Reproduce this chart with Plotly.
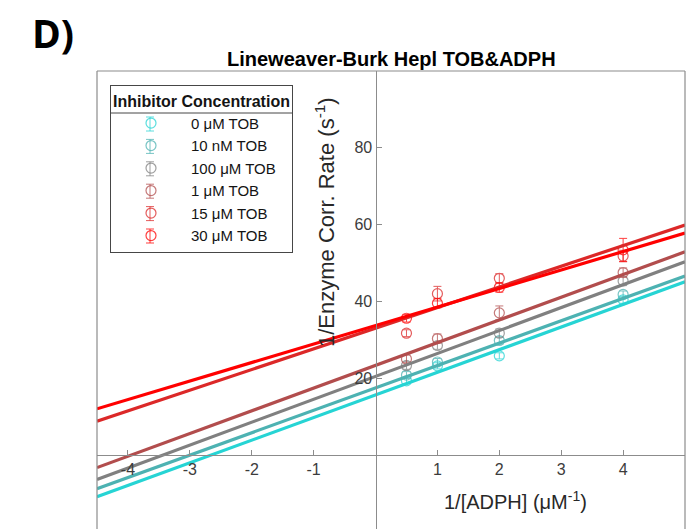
import plotly.graph_objects as go

# ---- data ----
series_names = ["0 μM TOB", "10 nM TOB", "100 μM TOB", "1 μM TOB", "15 μM TOB", "30 μM TOB"]
colors = ["rgb(38,212,212)", "rgb(77,178,178)", "rgb(128,128,128)",
          "rgb(178,77,77)", "rgb(220,40,40)", "rgb(255,0,0)"]

inv_adph = [0.5, 1, 2, 4]  # 1/[ADPH] (μM^-1)

rate_0uM = [19.3, 23.2, 25.8, 40.4]
rate_10nM = [20.8, 24.2, 29.8, 41.8]
rate_100uM = [23.3, 28.5, 31.7, 45.3]
rate_1uM = [25.0, 30.3, 37.0, 47.5]
rate_15uM = [31.7, 42.0, 46.0, 51.8]
rate_30uM = [35.6, 39.5, 43.6, 53.4]

err_0uM = [0.8, 0.8, 0.8, 0.9]
err_10nM = [0.9, 0.9, 1.0, 0.9]
err_100uM = [1.0, 1.0, 1.1, 1.2]
err_1uM = [1.0, 1.2, 1.8, 1.2]
err_15uM = [0.9, 1.9, 1.2, 1.5]
err_30uM = [1.0, 1.2, 1.2, 3.0]

# fitted lines read at the edges of the x range
fit_x = [-4.5, 5.0]
fit_0uM = [-10.9, 45.1]
fit_10nM = [-8.8, 46.6]
fit_100uM = [-6.4, 50.3]
fit_1uM = [-3.3, 52.9]
fit_15uM = [8.8, 59.9]
fit_30uM = [12.0, 57.8]

rates = [rate_0uM, rate_10nM, rate_100uM, rate_1uM, rate_15uM, rate_30uM]
errs = [err_0uM, err_10nM, err_100uM, err_1uM, err_15uM, err_30uM]
fits = [fit_0uM, fit_10nM, fit_100uM, fit_1uM, fit_15uM, fit_30uM]

x_ticks = [-4, -3, -2, -1, 1, 2, 3, 4]
y_ticks = [20, 40, 60, 80]
x_range = [-4.5, 5.0]
y_range = [-19.3, 100.0]

W, H = 686, 529
ML, MR, MT, MB = 97, 1, 71, 0
PW, PH = W - ML - MR, H - MT - MB

def px(xp):
    return (xp - ML) / PW

def py(yp):
    return (H - MB - yp) / PH

fig = go.Figure()

for name, c, r, e in zip(series_names, colors, rates, errs):
    fig.add_trace(go.Scatter(
        x=inv_adph, y=r, mode="markers", name=name,
        marker=dict(symbol="circle-open", size=10, color=c, line=dict(width=1.2, color=c)),
        error_y=dict(type="data", array=e, visible=True, color=c, thickness=1, width=4),
        opacity=0.75,
    ))

for name, c, f in zip(series_names, colors, fits):
    fig.add_trace(go.Scatter(
        x=fit_x, y=f, mode="lines", showlegend=False, hoverinfo="skip",
        line=dict(color=c, width=3.2),
    ))

x0_pos = (0 - y_range[0]) / (y_range[1] - y_range[0])
y0_pos = (0 - x_range[0]) / (x_range[1] - x_range[0])

axis_col = "rgb(140,140,140)"
tick_font = dict(family="Liberation Sans, Arial", size=16, color="rgb(60,60,60)")

shapes = [
    dict(type="line", xref="paper", yref="paper", x0=0, x1=0, y0=0, y1=1,
         line=dict(color=axis_col, width=1.2)),
    dict(type="line", xref="paper", yref="paper", x0=0, x1=1, y0=1, y1=1,
         line=dict(color=axis_col, width=1.2)),
    dict(type="line", xref="paper", yref="paper", x0=1, x1=1, y0=0, y1=1,
         line=dict(color=axis_col, width=1.2)),
    dict(type="line", xref="paper", yref="paper", x0=px(110), x1=px(292), y0=py(113), y1=py(113),
         line=dict(color="rgb(70,70,70)", width=1)),
]

# error-bar glyphs for the legend icons
icon_x = 150
icon_y0 = 124
icon_dy = 22.4
for i, c in enumerate(colors):
    cy = icon_y0 + i * icon_dy
    st = dict(color=c, width=1)
    shapes.append(dict(type="line", xref="paper", yref="paper",
                       x0=px(icon_x), x1=px(icon_x), y0=py(cy - 7), y1=py(cy + 7), line=st, opacity=0.75))
    for dy in (-7, 7):
        shapes.append(dict(type="line", xref="paper", yref="paper",
                           x0=px(icon_x - 4), x1=px(icon_x + 4), y0=py(cy + dy), y1=py(cy + dy),
                           line=st, opacity=0.75))

fig.update_layout(
    width=W, height=H,
    margin=dict(l=ML, r=MR, t=MT, b=MB),
    paper_bgcolor="white", plot_bgcolor="white",
    showlegend=True,
    xaxis=dict(range=x_range, tickvals=x_ticks, ticktext=[str(v) for v in x_ticks],
               anchor="free", position=x0_pos, showline=True, linecolor=axis_col, linewidth=1.2,
               ticks="inside", ticklen=5, tickcolor=axis_col, showgrid=False, zeroline=False,
               tickfont=tick_font),
    yaxis=dict(range=y_range, tickvals=y_ticks, ticktext=[str(v) for v in y_ticks],
               anchor="free", position=y0_pos, showline=True, linecolor=axis_col, linewidth=1.2,
               ticks="inside", ticklen=5, tickcolor=axis_col, showgrid=False, zeroline=False,
               tickfont=tick_font),
    legend=dict(
        x=px(110), y=py(85), xanchor="left", yanchor="top",
        bordercolor="rgb(70,70,70)", borderwidth=1, bgcolor="rgba(255,255,255,0)",
        font=dict(family="Liberation Sans, Arial", size=15, color="rgb(20,20,20)"),
        title=dict(text="<b>Inhibitor Concentration</b>", side="top center",
                   font=dict(family="Liberation Sans, Arial", size=16, color="rgb(20,20,20)")),
        itemwidth=70,
    ),
    shapes=shapes,
    annotations=[
        dict(text="<b>D)</b>", xref="paper", yref="paper", x=px(30), y=py(33),
             xanchor="left", yanchor="middle", showarrow=False,
             font=dict(family="Open Sans", size=39, color="black")),
        dict(text="<b>Lineweaver-Burk Hepl TOB&ADPH</b>", xref="paper", yref="paper",
             x=0.5, y=py(59), xanchor="center", yanchor="middle", showarrow=False,
             font=dict(family="Liberation Sans, Arial", size=20, color="black")),
        dict(text="1/[ADPH] (μM<sup>-1</sup>)", xref="paper", yref="paper",
             x=px(515), y=py(500), xanchor="center", yanchor="middle", showarrow=False,
             font=dict(family="Liberation Sans, Arial", size=20, color="rgb(40,40,40)")),
        dict(text="1/Enzyme Corr. Rate (s<sup>-1</sup>)", xref="paper", yref="paper",
             x=px(325), y=py(222), xanchor="center", yanchor="middle", showarrow=False,
             textangle=-90,
             font=dict(family="Liberation Sans, Arial", size=22, color="rgb(40,40,40)")),
    ],
)

fig.write_html("out.html")
